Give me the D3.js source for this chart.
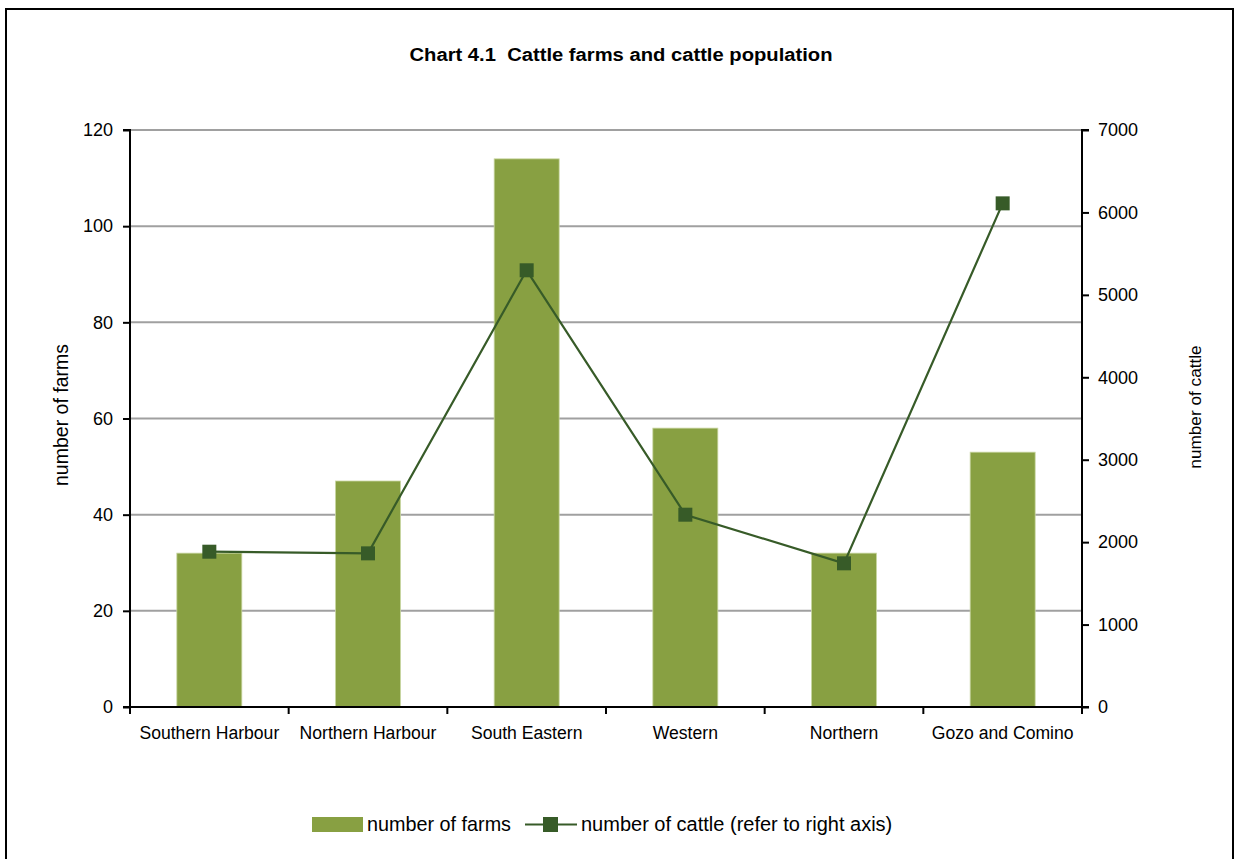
<!DOCTYPE html>
<html>
<head>
<meta charset="utf-8">
<script src="https://cdn.jsdelivr.net/npm/d3@7"></script>
<style>
  html, body { margin: 0; padding: 0; background: #fff; }
  svg { display: block; font-family: "Liberation Sans", Arial, sans-serif; }
</style>
</head>
<body>
<svg id="chart" width="1237" height="859"></svg>
<script>
const categories = ["Southern Harbour", "Northern Harbour", "South Eastern", "Western", "Northern", "Gozo and Comino"];
const farms = [32, 47, 114, 58, 32, 53];
const cattle = [1884, 1864, 5298, 2333, 1743, 6110];
const leftTicks = [0, 20, 40, 60, 80, 100, 120];
const rightTicks = [0, 1000, 2000, 3000, 4000, 5000, 6000, 7000];

const barColor = "#88A042";
const lineColor = "#375B28";
const FONT = "Liberation Sans, Arial, sans-serif";

const svg = d3.select("#chart");
const W = 1237, H = 859;
const m = { left: 130, right: 1082, top: 130, bottom: 707 };

svg.append("rect").attr("x", 6).attr("y", 9).attr("width", 1227).attr("height", H)
  .attr("fill", "#fff").attr("stroke", "#000").attr("stroke-width", 2);

svg.append("text").attr("x", 621).attr("y", 61).attr("text-anchor", "middle")
  .attr("font-size", 18).attr("font-weight", "bold").attr("fill", "#000")
  .attr("xml:space", "preserve").style("white-space", "pre")
  .attr("textLength", 423).attr("lengthAdjust", "spacingAndGlyphs")
  .text("Chart 4.1\u00A0\u00A0Cattle farms and cattle population");

const x = d3.scaleBand().domain(categories).range([m.left, m.right]).paddingInner(0).paddingOuter(0);
const yL = d3.scaleLinear().domain([0, 120]).range([m.bottom, m.top]);
const yR = d3.scaleLinear().domain([0, 7000]).range([m.bottom, m.top]);

// gridlines
svg.append("g").selectAll("line").data(leftTicks.filter(d => d > 0)).join("line")
  .attr("x1", m.left).attr("x2", m.right)
  .attr("y1", d => yL(d)).attr("y2", d => yL(d))
  .attr("stroke", "#A0A0A0").attr("stroke-width", 2);

// bars
const bw = 65;
svg.append("g").selectAll("rect").data(categories).join("rect")
  .attr("x", (d) => x(d) + x.bandwidth() / 2 - bw / 2)
  .attr("width", bw)
  .attr("y", (d, i) => yL(farms[i]))
  .attr("height", (d, i) => m.bottom - yL(farms[i]))
  .attr("fill", barColor)
  .attr("stroke", "#C9D6A2").attr("stroke-width", 0.8);

// left axis
const axL = svg.append("g").attr("transform", `translate(${m.left},0)`)
  .call(d3.axisLeft(yL).tickValues(leftTicks).tickSize(7).tickPadding(10).tickFormat(d3.format("d")));
axL.select(".domain").attr("stroke", "#000").attr("stroke-width", 2).attr("d", `M-7,${m.top}H0V${m.bottom}`);
axL.selectAll(".tick line").attr("stroke", "#000").attr("stroke-width", 2);
axL.selectAll(".tick text").attr("font-size", 18).attr("fill", "#000").attr("font-family", FONT);

// right axis
const axR = svg.append("g").attr("transform", `translate(${m.right},0)`)
  .call(d3.axisRight(yR).tickValues(rightTicks).tickSize(7).tickPadding(9).tickFormat(d3.format("d")));
axR.select(".domain").attr("stroke", "#000").attr("stroke-width", 2).attr("d", `M7,${m.top}H0V${m.bottom}`);
axR.selectAll(".tick line").attr("stroke", "#000").attr("stroke-width", 2);
axR.selectAll(".tick text").attr("font-size", 18).attr("fill", "#000").attr("font-family", FONT);

// bottom axis
const axB = svg.append("g").attr("transform", `translate(0,${m.bottom})`)
  .call(d3.axisBottom(x).tickSize(0).tickPadding(20));
axB.select(".domain").attr("stroke", "#000").attr("stroke-width", 2).attr("d", `M${m.left - 7},0H${m.right + 7}`);
axB.selectAll(".tick text").attr("font-size", 17.6).attr("fill", "#000").attr("font-family", FONT);
const boundaries = categories.map(c => x(c)).concat([x(categories[categories.length - 1]) + x.bandwidth()]);
svg.append("g").selectAll("line").data(boundaries).join("line")
  .attr("x1", d => d).attr("x2", d => d).attr("y1", m.bottom).attr("y2", m.bottom + 7)
  .attr("stroke", "#000").attr("stroke-width", 2);

// line series
const cx = (d) => x(d) + x.bandwidth() / 2;
const line = d3.line().x(d => cx(d[0])).y(d => yR(d[1]));
const pts = categories.map((c, i) => [c, cattle[i]]);
svg.append("path").datum(pts).attr("d", line).attr("fill", "none")
  .attr("stroke", lineColor).attr("stroke-width", 2.2);
const ms = 14;
svg.append("g").selectAll("rect").data(pts).join("rect")
  .attr("x", d => cx(d[0]) - ms / 2).attr("y", d => yR(d[1]) - ms / 2)
  .attr("width", ms).attr("height", ms).attr("fill", lineColor);

// axis titles
svg.append("text").attr("transform", `translate(68,415) rotate(-90)`).attr("text-anchor", "middle")
  .attr("font-size", 19.5).attr("fill", "#000").text("number of farms");
svg.append("text").attr("transform", `translate(1201,407) rotate(-90)`).attr("text-anchor", "middle")
  .attr("font-size", 17.2).attr("fill", "#000").text("number of cattle");

// legend
const lg = svg.append("g");
lg.append("rect").attr("x", 312).attr("y", 817).attr("width", 51).attr("height", 15).attr("fill", barColor);
lg.append("text").attr("x", 367).attr("y", 831).attr("font-size", 19.8).attr("fill", "#000").text("number of farms");
lg.append("line").attr("x1", 525).attr("x2", 577).attr("y1", 824.5).attr("y2", 824.5)
  .attr("stroke", lineColor).attr("stroke-width", 2.2);
lg.append("rect").attr("x", 543).attr("y", 817).attr("width", 15).attr("height", 15).attr("fill", lineColor);
lg.append("text").attr("x", 581).attr("y", 831).attr("font-size", 20).attr("fill", "#000").text("number of cattle (refer to right axis)");
</script>
</body>
</html>
